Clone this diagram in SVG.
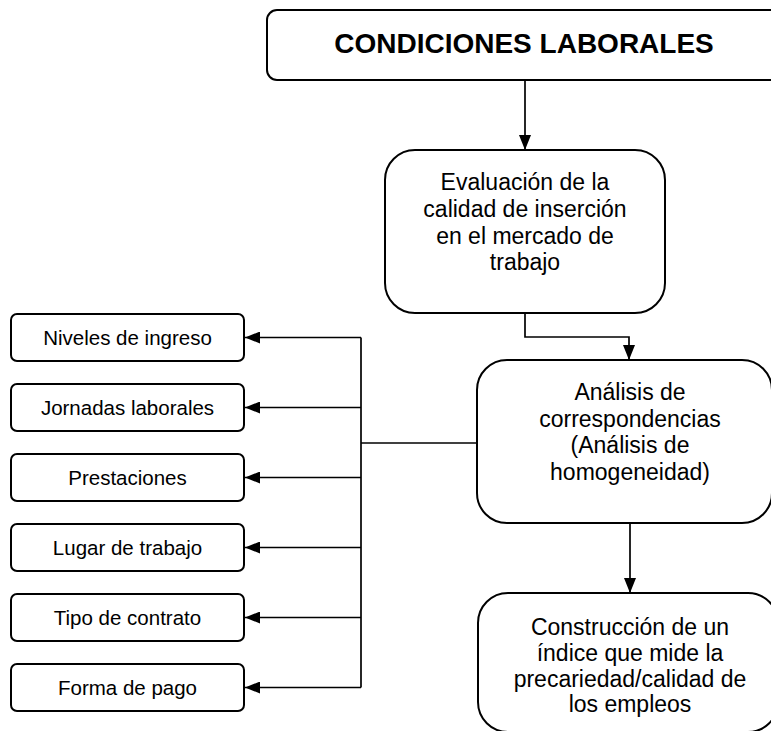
<svg xmlns="http://www.w3.org/2000/svg" width="771" height="731" viewBox="0 0 771 731">
<style>
.box{fill:#fff;stroke:#000;stroke-width:2}
.con{fill:none;stroke:#000;stroke-width:1.7}
text{font-family:"Liberation Sans",Arial,sans-serif;fill:#000;text-anchor:middle}
.t{font-size:23px}
.s{font-size:20.5px}
.h{font-size:28px;font-weight:bold}
</style>
<defs>
<marker id="ah" markerUnits="userSpaceOnUse" markerWidth="16" markerHeight="12" refX="15" refY="6" orient="auto">
<path d="M0,0 L15,6 L0,12 z" fill="#000"/>
</marker>
</defs>
<g id="connectors">
<path class="con" d="M525,80 V150" marker-end="url(#ah)"/>
<path class="con" d="M525,313 V337 H629 V360" marker-end="url(#ah)"/>
<path class="con" d="M630,523 V593" marker-end="url(#ah)"/>
<path class="con" d="M477,443 H361"/>
<path class="con" d="M361,337.5 V687.5"/>
<path class="con" d="M361,337.5 H245" marker-end="url(#ah)"/>
<path class="con" d="M361,407.5 H245" marker-end="url(#ah)"/>
<path class="con" d="M361,477.5 H245" marker-end="url(#ah)"/>
<path class="con" d="M361,547.5 H245" marker-end="url(#ah)"/>
<path class="con" d="M361,617.5 H245" marker-end="url(#ah)"/>
<path class="con" d="M361,687.5 H245" marker-end="url(#ah)"/>
</g>
<g id="condiciones">
<rect class="box" x="267" y="10" width="514" height="70" rx="10"/>
<text class="h" x="524" y="53">CONDICIONES LABORALES</text>
</g>
<g id="evaluacion">
<rect class="box" x="385" y="150" width="280" height="163" rx="30"/>
<text class="t" x="525" y="190">Evaluación de la</text>
<text class="t" x="525" y="217">calidad de inserción</text>
<text class="t" x="525" y="244">en el mercado de</text>
<text class="t" x="525" y="270">trabajo</text>
</g>
<g id="analisis">
<rect class="box" x="477" y="360" width="295" height="163" rx="30"/>
<text class="t" x="630" y="400">Análisis de</text>
<text class="t" x="630" y="427">correspondencias</text>
<text class="t" x="630" y="453">(Análisis de</text>
<text class="t" x="630" y="480">homogeneidad)</text>
</g>
<g id="construccion">
<rect class="box" x="478" y="593" width="300" height="139" rx="30"/>
<text class="t" x="630" y="635">Construcción de un</text>
<text class="t" x="630" y="661">índice que mide la</text>
<text class="t" x="630" y="687">precariedad/calidad de</text>
<text class="t" x="630" y="712">los empleos</text>
</g>
<g id="niveles">
<rect class="box" x="11" y="314" width="233" height="47" rx="6"/>
<text class="s" x="127.5" y="345">Niveles de ingreso</text>
</g>
<g id="jornadas">
<rect class="box" x="11" y="384" width="233" height="47" rx="6"/>
<text class="s" x="127.5" y="415">Jornadas laborales</text>
</g>
<g id="prestaciones">
<rect class="box" x="11" y="454" width="233" height="47" rx="6"/>
<text class="s" x="127.5" y="485">Prestaciones</text>
</g>
<g id="lugar">
<rect class="box" x="11" y="524" width="233" height="47" rx="6"/>
<text class="s" x="127.5" y="555">Lugar de trabajo</text>
</g>
<g id="tipo">
<rect class="box" x="11" y="594" width="233" height="47" rx="6"/>
<text class="s" x="127.5" y="625">Tipo de contrato</text>
</g>
<g id="forma">
<rect class="box" x="11" y="664" width="233" height="47" rx="6"/>
<text class="s" x="127.5" y="695">Forma de pago</text>
</g>
</svg>
